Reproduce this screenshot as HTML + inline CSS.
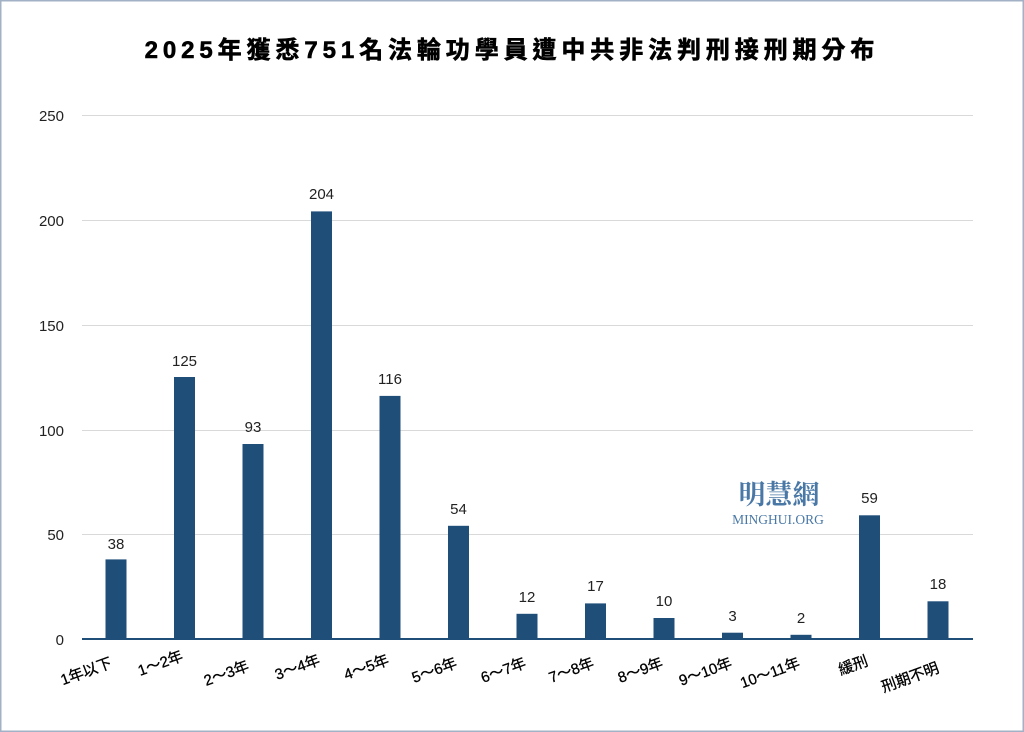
<!DOCTYPE html>
<html><head><meta charset="utf-8"><style>
html,body{margin:0;padding:0;background:#fff;}
svg{display:block;}
</style></head><body>
<svg width="1024" height="732" viewBox="0 0 1024 732" xmlns="http://www.w3.org/2000/svg" font-family="'Liberation Sans','Noto Sans CJK TC',sans-serif">
<rect x="0.75" y="0.75" width="1022.5" height="730.5" fill="#fff" stroke="#a3b1c6" stroke-width="1.5"/>
<text x="512" y="58" text-anchor="middle" font-size="24" font-weight="bold" fill="#000" stroke="#000" stroke-width="0.6" letter-spacing="4.9" font-family="'Liberation Sans','Noto Sans CJK TC',sans-serif">2025年獲悉751名法輪功學員遭中共非法判刑接刑期分布</text>
<g stroke="#d9d9d9" stroke-width="1">
<line x1="82" y1="115.5" x2="973" y2="115.5"/>
<line x1="82" y1="220.5" x2="973" y2="220.5"/>
<line x1="82" y1="325.5" x2="973" y2="325.5"/>
<line x1="82" y1="430.5" x2="973" y2="430.5"/>
<line x1="82" y1="534.5" x2="973" y2="534.5"/>
</g>
<g font-size="15" fill="#222" text-anchor="end">
<text x="64" y="121">250</text>
<text x="64" y="226">200</text>
<text x="64" y="331">150</text>
<text x="64" y="436">100</text>
<text x="64" y="540">50</text>
<text x="64" y="645">0</text>
</g>
<text x="779" y="504" text-anchor="middle" font-size="27" font-weight="bold" fill="#4a78a6" font-family="'Noto Serif CJK SC',serif">明慧網</text>
<text x="778" y="524" text-anchor="middle" font-size="13.5" fill="#4a78a6" font-family="'Liberation Serif',serif">MINGHUI.ORG</text>
<g fill="#1f4e79">
<rect x="105.5" y="559.4" width="21" height="79.6"/>
<rect x="174" y="377" width="21" height="262"/>
<rect x="242.5" y="444" width="21" height="195"/>
<rect x="311" y="211.4" width="21" height="427.6"/>
<rect x="379.5" y="395.9" width="21" height="243.1"/>
<rect x="448" y="525.8" width="21" height="113.2"/>
<rect x="516.5" y="613.8" width="21" height="25.2"/>
<rect x="585" y="603.4" width="21" height="35.6"/>
<rect x="653.5" y="618" width="21" height="21"/>
<rect x="722" y="632.7" width="21" height="6.3"/>
<rect x="790.5" y="634.8" width="21" height="4.2"/>
<rect x="859" y="515.3" width="21" height="123.7"/>
<rect x="927.5" y="601.3" width="21" height="37.7"/>
</g>
<line x1="82" y1="639" x2="973" y2="639" stroke="#1f4e79" stroke-width="2"/>
<g font-size="15" fill="#222" text-anchor="middle">
<text x="116" y="549">38</text>
<text x="184.5" y="366">125</text>
<text x="253" y="432">93</text>
<text x="321.5" y="199">204</text>
<text x="390" y="384">116</text>
<text x="458.5" y="514">54</text>
<text x="527" y="602">12</text>
<text x="595.5" y="591">17</text>
<text x="664" y="606">10</text>
<text x="732.5" y="621">3</text>
<text x="801" y="623">2</text>
<text x="869.5" y="503">59</text>
<text x="938" y="589">18</text>
</g>
<g font-size="15" fill="#000" text-anchor="end" stroke="#000" stroke-width="0.3">
<text transform="translate(113,667) rotate(-20)">1年以下</text>
<text transform="translate(184,660) rotate(-20)">1～2年</text>
<text transform="translate(250,670) rotate(-20)">2～3年</text>
<text transform="translate(321,664) rotate(-20)">3～4年</text>
<text transform="translate(390,664) rotate(-20)">4～5年</text>
<text transform="translate(458,667) rotate(-20)">5～6年</text>
<text transform="translate(527,667) rotate(-20)">6～7年</text>
<text transform="translate(595,667) rotate(-20)">7～8年</text>
<text transform="translate(664,667) rotate(-20)">8～9年</text>
<text transform="translate(733,667) rotate(-20)">9～10年</text>
<text transform="translate(801,667) rotate(-20)">10～11年</text>
<text transform="translate(869,665) rotate(-20)">緩刑</text>
<text transform="translate(940,672) rotate(-20)">刑期不明</text>
</g>
</svg>
</body></html>
